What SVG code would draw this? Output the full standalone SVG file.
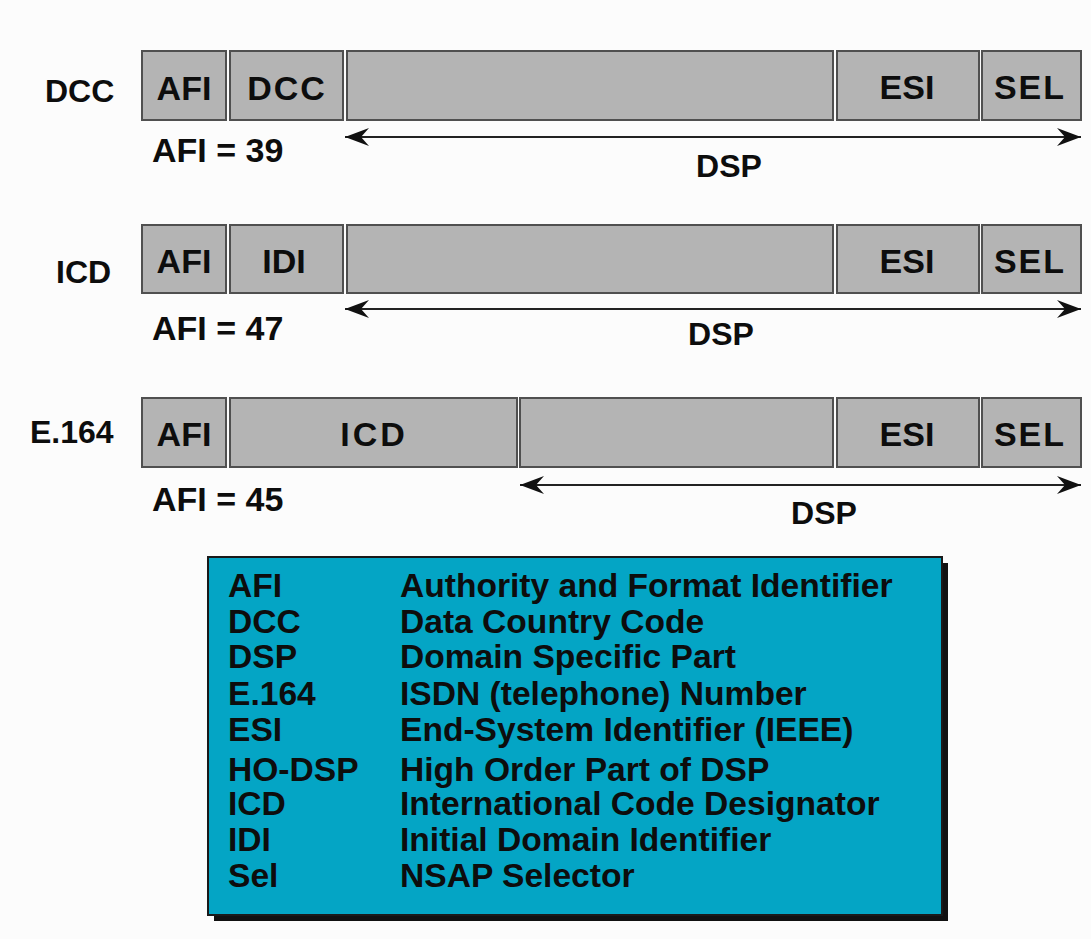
<svg xmlns="http://www.w3.org/2000/svg" width="1091" height="939" viewBox="0 0 1091 939">
  <defs>
    <style>
      .bg { fill: #fcfcfc; }
      .cell { fill: #b4b4b4; stroke: #505050; stroke-width: 2; }
      .t { font-family: "Liberation Sans", Arial, sans-serif; font-weight: bold; fill: #0d0d0d; }
      .big { font-size: 34px; }
      .lbl { font-size: 32px; }
      .leg { font-size: 33.6px; }
      .arr { stroke: #222; stroke-width: 2; fill: none; marker-start: url(#ah); marker-end: url(#ah); }
      .legbox { fill: #04a5c5; stroke: #1a1a1a; stroke-width: 2; }
      .shadow { fill: #111; }
    </style>
    <marker id="ah" markerUnits="userSpaceOnUse" markerWidth="26" markerHeight="20" refX="24" refY="9" orient="auto-start-reverse" viewBox="0 0 26 18">
      <path d="M0,0 L24,9 L0,18 L8,9 Z" fill="#111"/>
    </marker>
  </defs>
  <rect class="bg" x="0" y="0" width="1091" height="939"/>

  <g id="row-dcc">
    <text class="t lbl" x="45" y="102">DCC</text>
    <rect class="cell" x="142" y="51" width="84" height="69"/>
    <rect class="cell" x="230" y="51" width="113" height="69"/>
    <rect class="cell" x="347" y="51" width="486" height="69"/>
    <rect class="cell" x="837" y="51" width="142" height="69"/>
    <rect class="cell" x="982" y="51" width="99" height="69"/>
    <text class="t big" x="184" y="100" text-anchor="middle">AFI</text>
    <text class="t big" x="287" y="100" text-anchor="middle" letter-spacing="2">DCC</text>
    <text class="t big" x="907" y="99" text-anchor="middle">ESI</text>
    <text class="t big" x="1030" y="99" text-anchor="middle" letter-spacing="2">SEL</text>
    <text class="t big" x="152" y="162">AFI = 39</text>
    <text class="t lbl" x="729" y="177" text-anchor="middle">DSP</text>
  </g>

  <g id="row-icd">
    <text class="t lbl" x="56" y="283">ICD</text>
    <rect class="cell" x="142" y="225" width="84" height="68"/>
    <rect class="cell" x="230" y="225" width="113" height="68"/>
    <rect class="cell" x="347" y="225" width="486" height="68"/>
    <rect class="cell" x="837" y="225" width="142" height="68"/>
    <rect class="cell" x="982" y="225" width="99" height="68"/>
    <text class="t big" x="184" y="273" text-anchor="middle">AFI</text>
    <text class="t big" x="284" y="273" text-anchor="middle">IDI</text>
    <text class="t big" x="907" y="273" text-anchor="middle">ESI</text>
    <text class="t big" x="1030" y="273" text-anchor="middle" letter-spacing="2">SEL</text>
    <text class="t big" x="152" y="340">AFI = 47</text>
    <text class="t lbl" x="721" y="345" text-anchor="middle">DSP</text>
  </g>

  <g id="row-e164">
    <text class="t lbl" x="30" y="443">E.164</text>
    <rect class="cell" x="142" y="398" width="84" height="69"/>
    <rect class="cell" x="230" y="398" width="287" height="69"/>
    <rect class="cell" x="520" y="398" width="313" height="69"/>
    <rect class="cell" x="837" y="398" width="142" height="69"/>
    <rect class="cell" x="982" y="398" width="99" height="69"/>
    <text class="t big" x="184" y="446" text-anchor="middle">AFI</text>
    <text class="t big" x="374" y="446" text-anchor="middle" letter-spacing="3">ICD</text>
    <text class="t big" x="907" y="446" text-anchor="middle">ESI</text>
    <text class="t big" x="1030" y="446" text-anchor="middle" letter-spacing="2">SEL</text>
    <text class="t big" x="152" y="511">AFI = 45</text>
    <text class="t lbl" x="824" y="524" text-anchor="middle">DSP</text>
  </g>

  <g id="connectors">
    <line class="arr" x1="345" y1="137" x2="1081" y2="137"/>
    <line class="arr" x1="345" y1="309" x2="1081" y2="309"/>
    <line class="arr" x1="520" y1="485" x2="1081" y2="485"/>
  </g>

  <g id="legend">
    <rect class="shadow" x="214" y="563" width="734" height="358"/>
    <rect class="legbox" x="208" y="557" width="734" height="358"/>
    <text class="t leg" x="228" y="597">AFI</text>
    <text class="t leg" x="400" y="597">Authority and Format Identifier</text>
    <text class="t leg" x="228" y="633">DCC</text>
    <text class="t leg" x="400" y="633">Data Country Code</text>
    <text class="t leg" x="228" y="668">DSP</text>
    <text class="t leg" x="400" y="668">Domain Specific Part</text>
    <text class="t leg" x="228" y="705">E.164</text>
    <text class="t leg" x="400" y="705">ISDN (telephone) Number</text>
    <text class="t leg" x="228" y="741">ESI</text>
    <text class="t leg" x="400" y="741">End-System Identifier (IEEE)</text>
    <text class="t leg" x="228" y="781">HO-DSP</text>
    <text class="t leg" x="400" y="781">High Order Part of DSP</text>
    <text class="t leg" x="228" y="815">ICD</text>
    <text class="t leg" x="400" y="815">International Code Designator</text>
    <text class="t leg" x="228" y="851">IDI</text>
    <text class="t leg" x="400" y="851">Initial Domain Identifier</text>
    <text class="t leg" x="228" y="887">Sel</text>
    <text class="t leg" x="400" y="887">NSAP Selector</text>
  </g>
</svg>
